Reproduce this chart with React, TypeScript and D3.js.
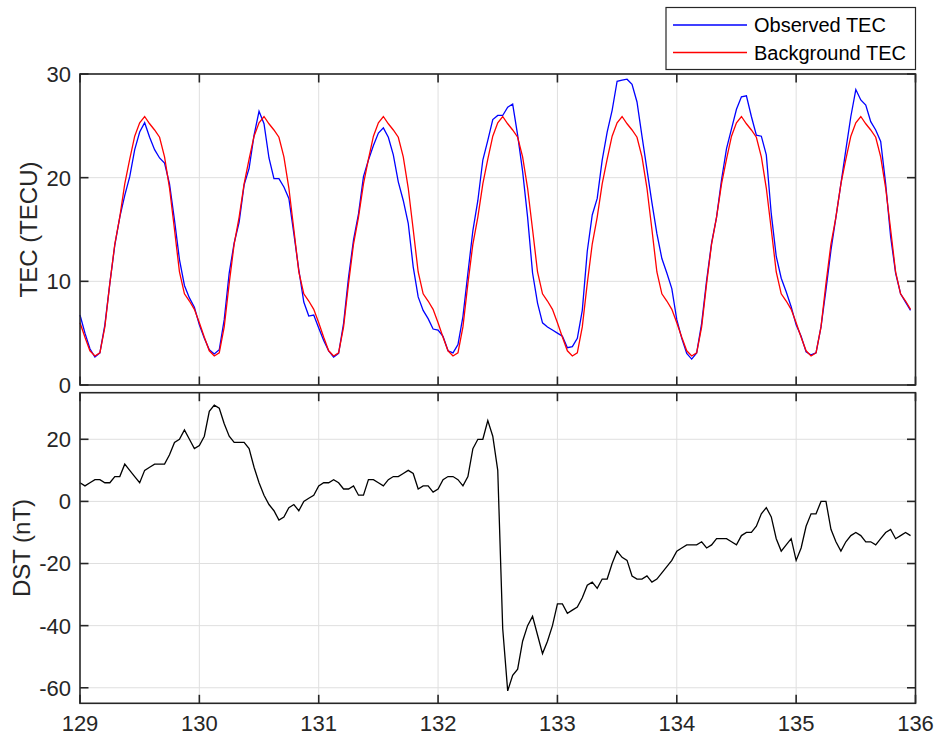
import React from "react";
import * as d3 from "d3";

// 觀測 TEC，每小時一點，day 129 ~ 135
const observedTec: number[] = [
  6.75, 5.0, 3.5, 2.7, 3.1, 5.8, 9.8, 13.5, 16.2, 18.3, 20.1, 22.7, 24.4, 25.3, 23.9, 22.7, 21.9, 21.4, 19.4, 15.9, 12.1, 9.6, 8.4, 7.5,
  5.8, 4.5, 3.4, 3.0, 3.4, 6.3, 10.8, 13.7, 15.7, 19.3, 20.9, 24.1, 26.4, 25.2, 21.9, 19.9, 19.9, 19.1, 18.0, 14.6, 11.1, 8.0, 6.65, 6.75,
  5.5, 4.3, 3.3, 2.7, 3.05, 5.95, 10.4, 14.0, 16.5, 20.1, 21.7, 23.1, 24.3, 24.8, 23.9, 22.2, 19.6, 17.8, 15.6, 11.4, 8.5, 7.2, 6.4, 5.4,
  5.3, 4.7, 3.3, 3.1, 3.9, 6.6, 10.8, 14.9, 17.8, 21.7, 23.6, 25.6, 26.0, 26.0, 26.8, 27.1, 24.1, 20.6, 16.2, 10.8, 7.9, 6.0, 5.6, 5.3,
  5.0, 4.7, 3.6, 3.7, 4.5, 7.2, 12.9, 16.4, 18.0, 21.7, 24.4, 26.5, 29.3, 29.4, 29.5, 29.0, 27.3, 24.0, 20.8, 17.6, 14.6, 12.2, 10.8, 9.3,
  6.3, 4.5, 3.05, 2.5, 3.1, 5.95, 10.1, 13.7, 16.2, 19.8, 22.8, 24.7, 26.6, 27.8, 27.9, 25.9, 24.1, 24.0, 22.2, 16.5, 12.4, 10.3, 9.0, 7.55,
  5.8, 4.7, 3.2, 2.9, 3.1, 5.6, 9.2, 13.0, 16.2, 19.4, 22.7, 25.9, 28.5, 27.5, 27.0, 25.4, 24.6, 23.5, 19.4, 14.3, 10.8, 8.8, 8.0, 7.2,
];

// 背景 TEC
const backgroundTec: number[] = [
  6.0, 4.6, 3.3, 2.8, 3.1, 5.6, 9.8, 13.6, 16.2, 19.4, 21.8, 24.0, 25.3, 25.9, 25.2, 24.6, 23.9, 22.0, 19.0, 15.0, 10.9, 8.8, 8.1, 7.3,
  6.0, 4.6, 3.3, 2.8, 3.1, 5.6, 9.8, 13.6, 16.2, 19.4, 21.8, 24.0, 25.3, 25.9, 25.2, 24.6, 23.9, 22.0, 19.0, 15.0, 10.9, 8.8, 8.1, 7.3,
  6.0, 4.6, 3.3, 2.8, 3.1, 5.6, 9.8, 13.6, 16.2, 19.4, 21.8, 24.0, 25.3, 25.9, 25.2, 24.6, 23.9, 22.0, 19.0, 15.0, 10.9, 8.8, 8.1, 7.3,
  6.0, 4.6, 3.3, 2.8, 3.1, 5.6, 9.8, 13.6, 16.2, 19.4, 21.8, 24.0, 25.3, 25.9, 25.2, 24.6, 23.9, 22.0, 19.0, 15.0, 10.9, 8.8, 8.1, 7.3,
  6.0, 4.6, 3.3, 2.8, 3.1, 5.6, 9.8, 13.6, 16.2, 19.4, 21.8, 24.0, 25.3, 25.9, 25.2, 24.6, 23.9, 22.0, 19.0, 15.0, 10.9, 8.8, 8.1, 7.3,
  6.0, 4.6, 3.3, 2.8, 3.1, 5.6, 9.8, 13.6, 16.2, 19.4, 21.8, 24.0, 25.3, 25.9, 25.2, 24.6, 23.9, 22.0, 19.0, 15.0, 10.9, 8.8, 8.1, 7.3,
  6.0, 4.6, 3.3, 2.8, 3.1, 5.6, 9.8, 13.6, 16.2, 19.4, 21.8, 24.0, 25.3, 25.9, 25.2, 24.6, 23.9, 22.0, 19.0, 15.0, 10.9, 8.8, 8.1, 7.3,
];

// DST 指數 (nT)
const dst: number[] = [
  6, 5, 6, 7, 7, 6, 6, 8, 8, 12, 10, 8, 6, 10, 11, 12, 12, 12, 15, 19, 20, 23, 20, 17,
  18, 21, 29, 31, 30, 25, 21, 19, 19, 19, 17, 11, 6, 2, -1, -3, -6, -5, -2, -1, -3, 0, 1, 2,
  5, 6, 6, 7, 6, 4, 4, 5, 2, 2, 7, 7, 6, 5, 7, 8, 8, 9, 10, 9, 4, 5, 5, 3,
  4, 7, 8, 8, 7, 5, 8, 17, 20, 20, 26, 21, 10, -41, -61, -56, -54, -45, -40, -37, -43, -49, -45, -40,
  -33, -33, -36, -35, -34, -31, -27, -26, -28, -25, -25, -20, -16, -18, -19, -24, -25, -25, -24, -26, -25, -23, -21, -19,
  -16, -15, -14, -14, -14, -13, -15, -14, -12, -12, -12, -13, -14, -11, -10, -10, -8, -4, -2, -5, -12, -16, -14, -12,
  -19, -15, -8, -4, -4, 0, 0, -9, -13, -16, -13, -11, -10, -11, -13, -13, -14, -12, -10, -9, -12, -11, -10, -11,
];

const startDay = 129;
const dayTicks = [129, 130, 131, 132, 133, 134, 135, 136];
const tecTicks = [0, 10, 20, 30];
const dstTicks = [-60, -40, -20, 0, 20];

const FONT = "'Liberation Sans', Arial, Helvetica, sans-serif";
const AXIS = "#262626";
const GRID = "#dfdfdf";
const TICK_LEN = 8.5;

const W = 936, H = 744;
const X0 = 80, X1 = 915.5;
const top1 = 74, bot1 = 385;
const top2 = 392.7, bot2 = 703.3;

const x = d3.scaleLinear().domain([129, 136]).range([X0, X1]);
const yTec = d3.scaleLinear().domain([0, 30]).range([bot1, top1]);
const yDst = d3.scaleLinear().domain([-65, 35]).range([bot2, top2]);

const hourToDay = (i: number) => startDay + i / 24;

/** 單一面板 (格線 + 刻度 + 外框) */
function Panel(props: {
  y: d3.ScaleLinear<number, number>;
  yTicks: number[];
  top: number;
  bottom: number;
  showX: boolean;
  children?: React.ReactNode;
}) {
  const { y, yTicks, top, bottom, showX } = props;
  return (
    <g>
      {/* 格線 */}
      {dayTicks.slice(1, -1).map(d => (
        <line key={"gx" + d} x1={x(d)} x2={x(d)} y1={top} y2={bottom} stroke={GRID} strokeWidth={1} />
      ))}
      {yTicks.map(v => (
        <line key={"gy" + v} x1={X0} x2={X1} y1={y(v)} y2={y(v)} stroke={GRID} strokeWidth={1} />
      ))}
      {props.children}
      {/* 刻度 */}
      {dayTicks.map(d => (
        <g key={"tx" + d}>
          <line x1={x(d)} x2={x(d)} y1={bottom} y2={bottom - TICK_LEN} stroke={AXIS} strokeWidth={1.6} />
          <line x1={x(d)} x2={x(d)} y1={top} y2={top + TICK_LEN} stroke={AXIS} strokeWidth={1.6} />
        </g>
      ))}
      {yTicks.map(v => (
        <g key={"ty" + v}>
          <line x1={X0} x2={X0 + TICK_LEN} y1={y(v)} y2={y(v)} stroke={AXIS} strokeWidth={1.6} />
          <line x1={X1} x2={X1 - TICK_LEN} y1={y(v)} y2={y(v)} stroke={AXIS} strokeWidth={1.6} />
          <text x={X0 - 9} y={y(v)} dy="0.36em" textAnchor="end" fontSize={22} fill={AXIS} fontFamily={FONT}>
            {v}
          </text>
        </g>
      ))}
      {showX && dayTicks.map(d => (
        <text key={"lx" + d} x={x(d)} y={bottom + 28} textAnchor="middle" fontSize={22} fill={AXIS} fontFamily={FONT}>
          {d}
        </text>
      ))}
      <rect x={X0} y={top} width={X1 - X0} height={bottom - top} fill="none" stroke={AXIS} strokeWidth={1.6} />
    </g>
  );
}

export default function App() {
  const tecLine = d3.line<number>()
    .x((_, i) => x(hourToDay(i)))
    .y(d => yTec(d));
  const dstLine = d3.line<number>()
    .x((_, i) => x(hourToDay(i)))
    .y(d => yDst(d));

  return (
    <div style={{ position: "absolute", left: 0, top: 0 }}>
      <svg width={W} height={H} style={{ display: "block", background: "#fff" }}>
        <Panel y={yTec} yTicks={tecTicks} top={top1} bottom={bot1} showX={false}>
          <path d={tecLine(observedTec) || ""} fill="none" stroke="#0000ff" strokeWidth={1.3} />
          <path d={tecLine(backgroundTec) || ""} fill="none" stroke="#ff0000" strokeWidth={1.3} />
        </Panel>
        <Panel y={yDst} yTicks={dstTicks} top={top2} bottom={bot2} showX={true}>
          <path d={dstLine(dst) || ""} fill="none" stroke="#000" strokeWidth={1.3} />
        </Panel>

        {/* 軸標題 */}
        <text transform={`translate(37,${(top1 + bot1) / 2}) rotate(-90)`} textAnchor="middle" fontSize={24} fill={AXIS} fontFamily={FONT}>
          TEC (TECU)
        </text>
        <text transform={`translate(30,${(top2 + bot2) / 2}) rotate(-90)`} textAnchor="middle" fontSize={24} fill={AXIS} fontFamily={FONT}>
          DST (nT)
        </text>

        {/* 圖例 */}
        <g>
          <rect x={666} y={7.5} width={249.5} height={62} fill="#fff" stroke={AXIS} strokeWidth={1.2} />
          <line x1={673} x2={747} y1={25} y2={25} stroke="#0000ff" strokeWidth={1.3} />
          <text x={754} y={25} dy="0.36em" fontSize={20} fill="#000" fontFamily={FONT}>Observed TEC</text>
          <line x1={673} x2={747} y1={52.5} y2={52.5} stroke="#ff0000" strokeWidth={1.3} />
          <text x={754} y={52.5} dy="0.36em" fontSize={20} fill="#000" fontFamily={FONT}>Background TEC</text>
        </g>
      </svg>
    </div>
  );
}
